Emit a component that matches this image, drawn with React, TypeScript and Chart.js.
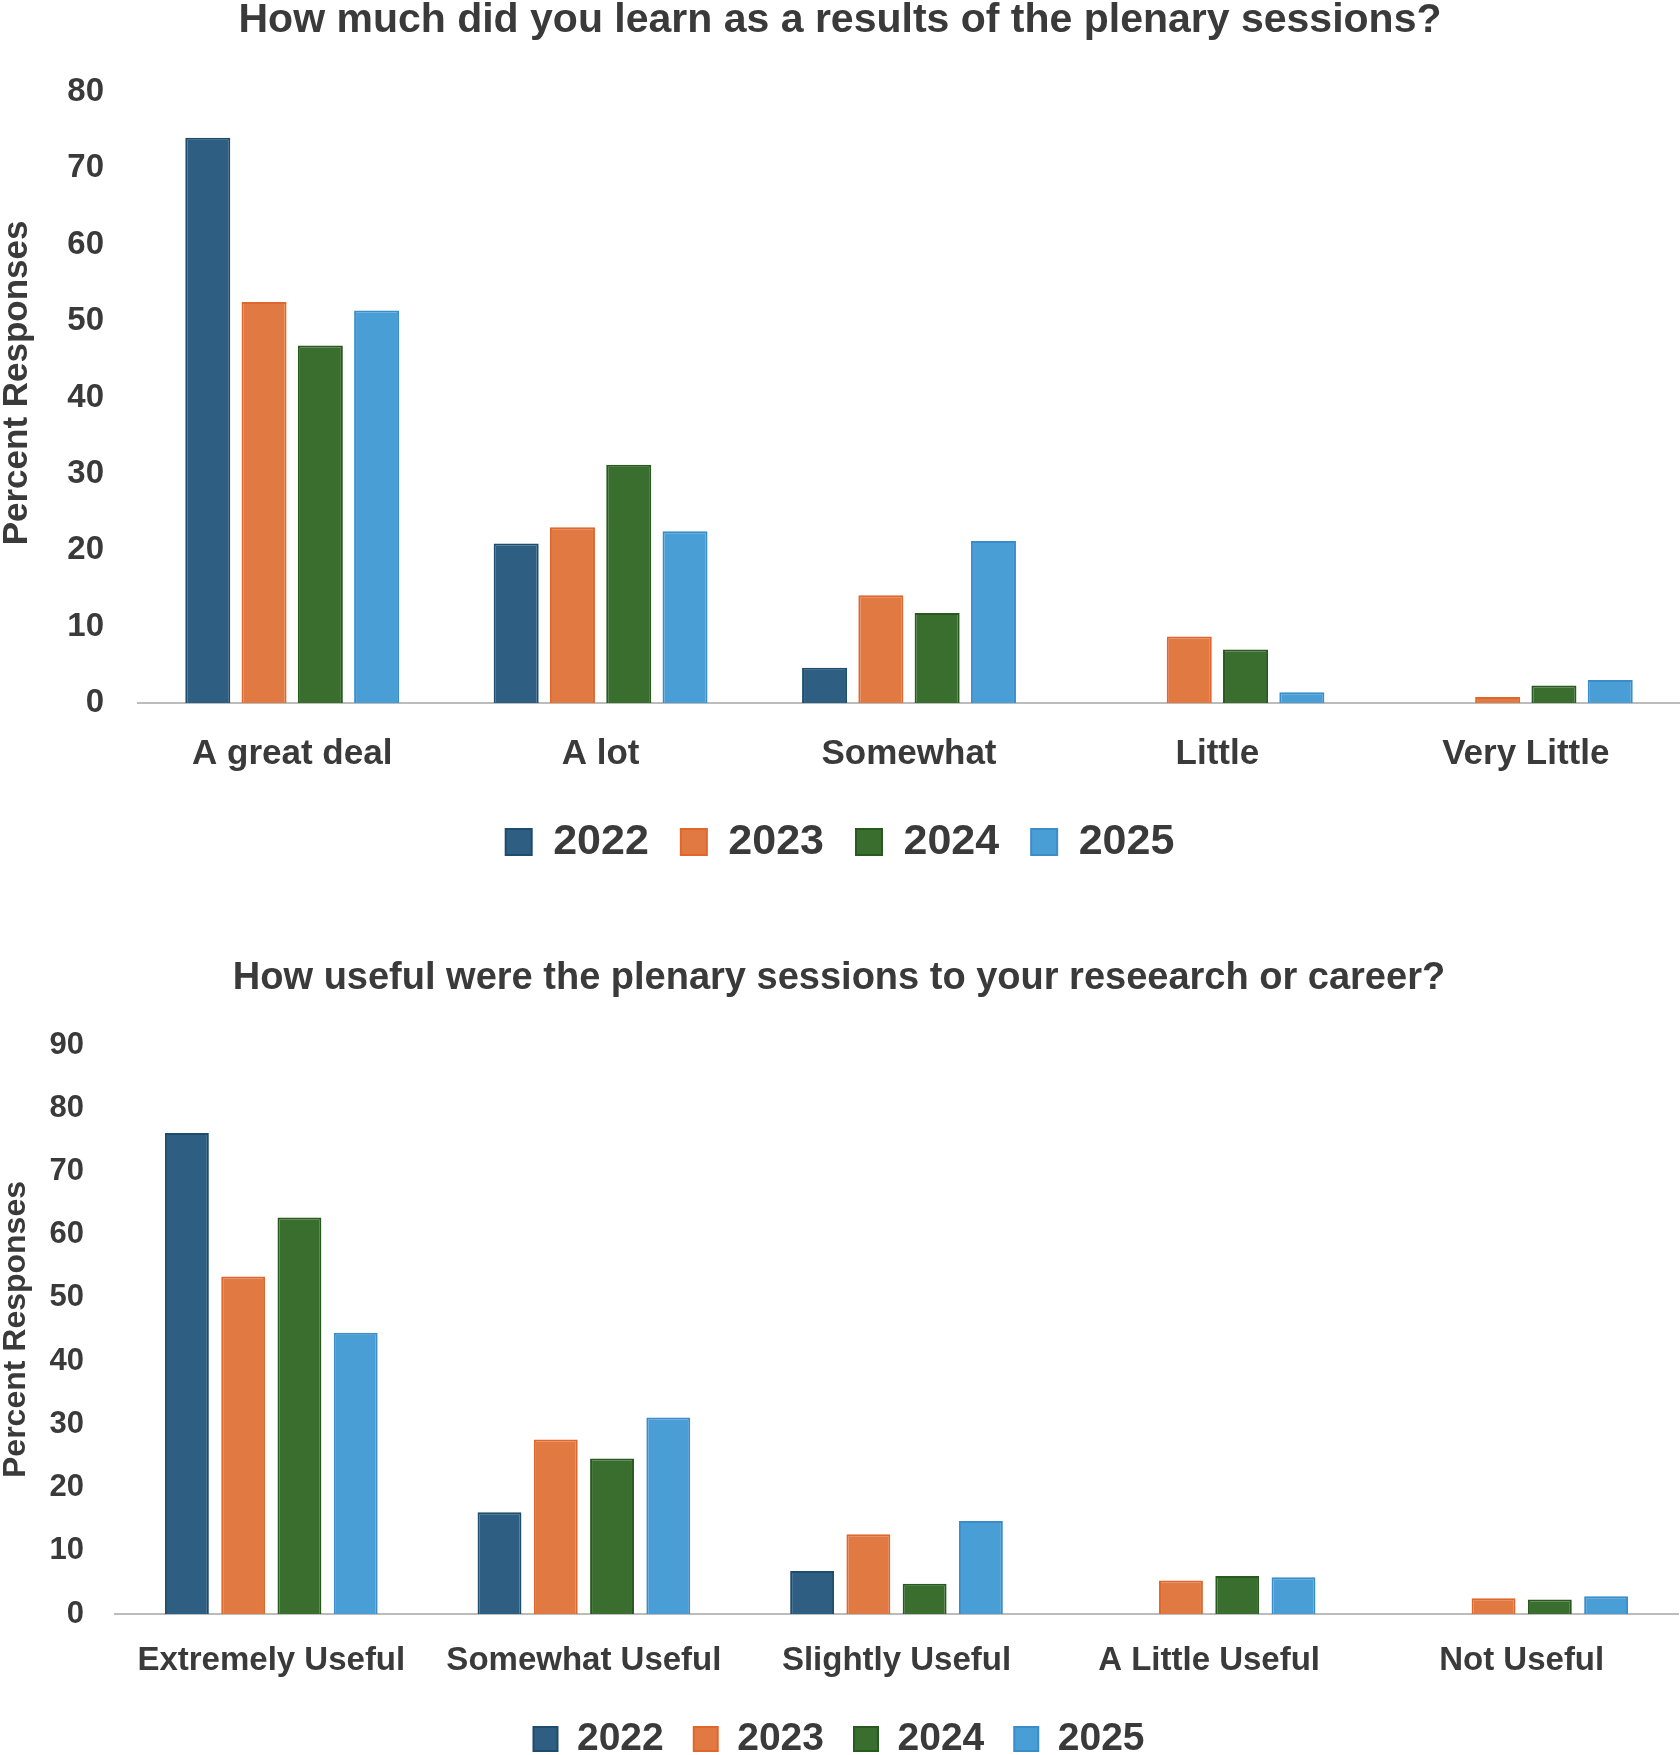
import React, { useEffect, useRef } from "react";
import { Chart, registerables } from "chart.js";

Chart.register(...registerables);

// ---------- data ----------
const years = ["2022", "2023", "2024", "2025"];
const fillColors = ["#2E5F82", "#E07A42", "#3A6E2F", "#4A9ED6"];
const edgeColors = ["#1E4C6C", "#E0662C", "#285A20", "#3A8CCB"];

const learnTitle = "How much did you learn as a results of the plenary sessions?";
const learnCategories = ["A great deal", "A lot", "Somewhat", "Little", "Very Little"];
const learn2022 = [74.0, 20.9, 4.6, null, null];
const learn2023 = [52.5, 23.0, 14.1, 8.7, 0.8];
const learn2024 = [46.8, 31.2, 11.8, 7.0, 2.3];
const learn2025 = [51.4, 22.5, 21.2, 1.4, 3.0];
const learnMax = 80;

const usefulTitle = "How useful were the plenary sessions to your reseearch or career?";
const usefulCategories = ["Extremely Useful", "Somewhat Useful", "Slightly Useful", "A Little Useful", "Not Useful"];
const useful2022 = [76.1, 16.1, 6.8, null, null];
const useful2023 = [53.4, 27.6, 12.6, 5.3, 2.5];
const useful2024 = [62.7, 24.6, 4.8, 6.0, 2.3];
const useful2025 = [44.5, 31.1, 14.7, 5.8, 2.8];
const usefulMax = 90;

const yAxisTitle = "Percent Responses";
const tickStep = 10;

const FONT = "'Liberation Sans', Arial, Helvetica, sans-serif";
const TEXT = "#3a3a3a";

type Layout = {
  titleSize: number;
  titleTop: number;
  titleBottom: number;
  yTickSize: number;
  yTickPad: number;
  yWidth: number;
  yTitleSize: number;
  yTitleText: string;
  xTickSize: number;
  xTickPad: number;
  xHeight: number;
  legendSize: number;
  legendBox: number;
  legendPad: number;
  padBottom: number;
  padRight: number;
  catPct: number;
  barPct: number;
};

function makeConfig(
  title: string,
  categories: string[],
  series: (number | null)[][],
  max: number,
  L: Layout
): any {
  return {
    type: "bar",
    data: {
      labels: categories,
      datasets: years.map((y, i) => ({
        label: y,
        data: series[i],
        backgroundColor: fillColors[i],
        borderColor: edgeColors[i],
        borderWidth: 2,
        borderSkipped: "start",
        categoryPercentage: L.catPct,
        barPercentage: L.barPct,
      })),
    },
    options: {
      responsive: false,
      maintainAspectRatio: false,
      animation: false,
      layout: { padding: { left: 0, right: L.padRight, top: 0, bottom: L.padBottom } },
      plugins: {
        title: {
          display: true,
          text: title,
          color: TEXT,
          font: { family: FONT, size: L.titleSize, weight: "bold", lineHeight: 1 },
          padding: { top: L.titleTop, bottom: L.titleBottom },
        },
        legend: {
          display: true,
          position: "bottom",
          labels: {
            boxWidth: L.legendBox,
            boxHeight: L.legendBox,
            padding: L.legendPad,
            color: TEXT,
            font: { family: FONT, size: L.legendSize, weight: "bold" },
          },
        },
        tooltip: { enabled: false },
      },
      scales: {
        x: {
          grid: { display: false, drawTicks: false },
          border: { display: true, color: "#bcbcbc", width: 2 },
          ticks: {
            color: TEXT,
            padding: L.xTickPad,
            maxRotation: 0,
            autoSkip: false,
            font: { family: FONT, size: L.xTickSize, weight: "bold" },
          },
          afterFit: (s: any) => {
            s.height = L.xHeight;
          },
        },
        y: {
          min: 0,
          max: max,
          grid: { display: false, drawTicks: false },
          border: { display: false },
          ticks: {
            stepSize: tickStep,
            color: TEXT,
            padding: L.yTickPad,
            font: { family: FONT, size: L.yTickSize, weight: "bold" },
          },
          title: {
            display: true,
            text: L.yTitleText,
            color: TEXT,
            padding: 0,
            font: { family: FONT, size: L.yTitleSize, weight: "bold", lineHeight: 1 },
          },
          afterFit: (s: any) => {
            s.width = L.yWidth;
          },
        },
      },
    },
  };
}

const layout1: Layout = {
  titleSize: 41,
  titleTop: 0,
  titleBottom: 51,
  yTickSize: 33,
  yTickPad: 34,
  yWidth: 138,
  yTitleSize: 35,
  yTitleText: "   " + yAxisTitle,
  xTickSize: 35,
  xTickPad: 30,
  xHeight: 85.5,
  legendSize: 43,
  legendBox: 26,
  legendPad: 32,
  padBottom: 6.5,
  padRight: 0,
  catPct: 0.73,
  barPct: 0.8,
};

const layout2: Layout = {
  titleSize: 38,
  titleTop: 80,
  titleBottom: 47,
  yTickSize: 31,
  yTickPad: 31,
  yWidth: 115,
  yTitleSize: 32,
  yTitleText: yAxisTitle,
  xTickSize: 33,
  xTickPad: 27,
  xHeight: 75.5,
  legendSize: 39,
  legendBox: 24,
  legendPad: 30,
  padBottom: 1.5,
  padRight: 2,
  catPct: 0.72,
  barPct: 0.78,
};

function BarChart(props: {
  title: string;
  categories: string[];
  series: (number | null)[][];
  max: number;
  layout: Layout;
  top: number;
  height: number;
}) {
  const ref = useRef<HTMLCanvasElement | null>(null);
  useEffect(() => {
    if (!ref.current) return;
    const chart = new Chart(
      ref.current,
      makeConfig(props.title, props.categories, props.series, props.max, props.layout)
    );
    return () => chart.destroy();
  }, []);
  return (
    <canvas
      ref={ref}
      width={1680}
      height={props.height}
      style={{ position: "absolute", left: 0, top: props.top, width: 1680, height: props.height, display: "block" }}
    />
  );
}

export default function App() {
  return (
    <div
      style={{
        position: "absolute",
        left: 0,
        top: 0,
        width: 1680,
        height: 1755,
        overflow: "hidden",
        background: "#ffffff",
      }}
    >
      <BarChart
        title={learnTitle}
        categories={learnCategories}
        series={[learn2022, learn2023, learn2024, learn2025]}
        max={learnMax}
        layout={layout1}
        top={0}
        height={880}
      />
      <BarChart
        title={usefulTitle}
        categories={usefulCategories}
        series={[useful2022, useful2023, useful2024, useful2025]}
        max={usefulMax}
        layout={layout2}
        top={880}
        height={890}
      />
    </div>
  );
}
